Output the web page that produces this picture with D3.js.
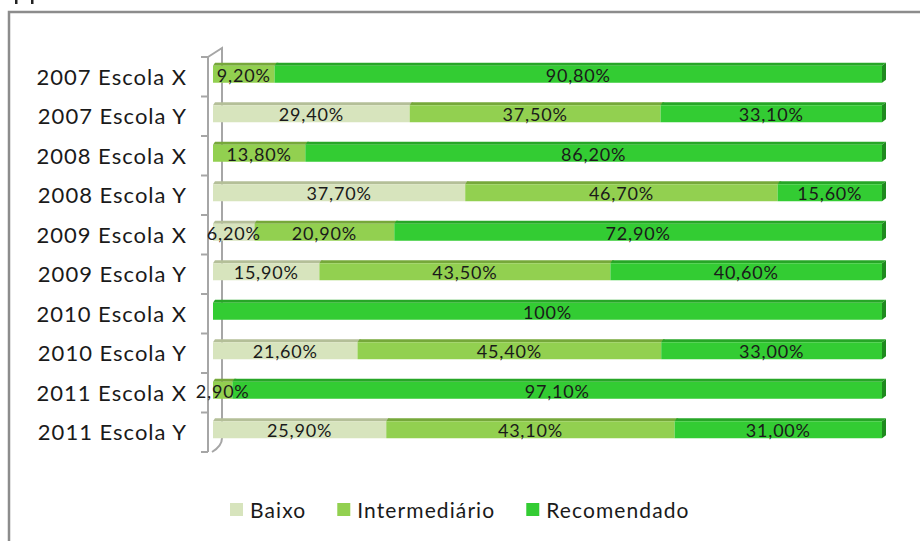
<!DOCTYPE html>
<html>
<head>
<meta charset="utf-8">
<title>Níveis por escola</title>
<script src="https://d3js.org/d3.v7.min.js"></script>
<style>
  body { margin: 0; background: #fff; }
  text { font-family: Lato, "Open Sans", sans-serif; fill: #1a1a1a; }
</style>
</head>
<body>
<div id="my_dataviz"></div>
<script>
// data
const categories = ["2007 Escola X", "2007 Escola Y", "2008 Escola X", "2008 Escola Y",
                    "2009 Escola X", "2009 Escola Y", "2010 Escola X", "2010 Escola Y",
                    "2011 Escola X", "2011 Escola Y"];
const baixo         = [0, 29.4, 0, 37.7, 6.2, 15.9, 0, 21.6, 0, 25.9];
const intermediario = [9.2, 37.5, 13.8, 46.7, 20.9, 43.5, 0, 45.4, 2.9, 43.1];
const recomendado   = [90.8, 33.1, 86.2, 15.6, 72.9, 40.6, 100, 33.0, 97.1, 31.0];
const seriesNames = ["Baixo", "Intermediário", "Recomendado"];

const colors = ["#d7e4bd", "#92d050", "#33cc33"];
const topColors = ["#b4bf98", "#76a83a", "#27a627"];
const sideColor = "#1f8a1f";

const W = 920, H = 541;
const svg = d3.select("#my_dataviz").append("svg")
  .attr("width", W).attr("height", H);

// chart frame (cut off on right and bottom)
svg.append("path")
  .attr("d", "M9,541 V12 H920")
  .attr("fill", "none").attr("stroke", "#8c8c8c").attr("stroke-width", 2.5);
// clipped remains of text above the frame
svg.append("rect").attr("x", 15).attr("y", 0).attr("width", 2.5).attr("height", 4).attr("fill", "#222");
svg.append("rect").attr("x", 31).attr("y", 0).attr("width", 2.5).attr("height", 4).attr("fill", "#222");

const x = d3.scaleLinear().domain([0, 100]).range([213, 882]);
const y = d3.scaleBand().domain(categories).range([57, 452]).padding(0);
const barH = 20, dx = 4, dy = 3;

// axis wall
const axisG = svg.append("g").attr("stroke", "#a6a6a6").attr("stroke-width", 2).attr("fill", "none");
axisG.append("path").attr("d", `M208,${y.range()[0]} V${y.range()[1]}`);
axisG.append("path").attr("d", `M208,${y.range()[0]} L222,${y.range()[0] - 9} V${y.range()[1] - 14} Q222,${y.range()[1] - 6} 212,${y.range()[1]}`);
const tickYs = categories.map(c => y(c)).concat([y.range()[1]]);
axisG.selectAll("line.tick").data(tickYs).join("line")
  .attr("class", "tick")
  .attr("x1", 201).attr("x2", 208)
  .attr("y1", d => d).attr("y2", d => d);

// category labels
svg.selectAll("text.cat").data(categories).join("text")
  .attr("class", "cat")
  .attr("x", 187)
  .attr("y", d => y(d) + y.bandwidth() / 2)
  .attr("dy", "0.36em")
  .attr("text-anchor", "end")
  .style("font-size", "22px")
  .style("letter-spacing", "1px")
  .text(d => d);

// stacked data
const rows = categories.map((c, i) => {
  const vals = [baixo[i], intermediario[i], recomendado[i]];
  let acc = 0;
  return vals.map((v, k) => {
    const seg = { cat: c, k: k, v: v, x0: acc, x1: acc + v };
    acc += v;
    return seg;
  });
});
const segs = rows.flat().filter(d => d.v > 0);
const barY = c => y(c) + (y.bandwidth() - barH) / 2 - 4;

// top faces
svg.selectAll("path.top").data(segs).join("path")
  .attr("class", "top")
  .attr("fill", d => topColors[d.k])
  .attr("d", d => {
    const a = x(d.x0), b = x(d.x1), t = barY(d.cat);
    return `M${a},${t + dy} L${a + dx * 0.5},${t} L${b + dx},${t} L${b},${t + dy} Z`;
  });
// front faces
svg.selectAll("rect.bar").data(segs).join("rect")
  .attr("class", "bar")
  .attr("x", d => x(d.x0))
  .attr("y", d => barY(d.cat) + dy)
  .attr("width", d => x(d.x1) - x(d.x0))
  .attr("height", barH - dy)
  .attr("fill", d => colors[d.k]);
// right side faces
svg.selectAll("path.side").data(rows.map(r => r[r.length - 1])).join("path")
  .attr("class", "side")
  .attr("fill", sideColor)
  .attr("d", d => {
    const b = x(d.x1), t = barY(d.cat);
    return `M${b},${t + dy} L${b + dx},${t} V${t + barH - dy} L${b},${t + barH} Z`;
  });

// value labels
svg.selectAll("text.val").data(segs).join("text")
  .attr("class", "val")
  .attr("x", d => (x(d.x0) + x(d.x1)) / 2)
  .attr("y", d => barY(d.cat) + dy + (barH - dy) / 2 + 1)
  .attr("dy", "0.36em")
  .attr("text-anchor", "middle")
  .style("font-size", "18px")
  .style("letter-spacing", "0.8px")
  .text(d => d.v === 100 ? "100%" : d.v.toFixed(2).replace(".", ",") + "%");

// legend
const legend = svg.append("g");
let lx = 230;
seriesNames.forEach((name, k) => {
  legend.append("rect")
    .attr("x", lx).attr("y", 503).attr("width", 13).attr("height", 13)
    .attr("fill", colors[k]);
  const t = legend.append("text")
    .attr("x", lx + 20).attr("y", 510).attr("dy", "0.36em")
    .style("font-size", "21px")
    .style("letter-spacing", "1.1px")
    .text(name);
  lx += 20 + t.node().getComputedTextLength() + 31;
});
</script>
</body>
</html>
